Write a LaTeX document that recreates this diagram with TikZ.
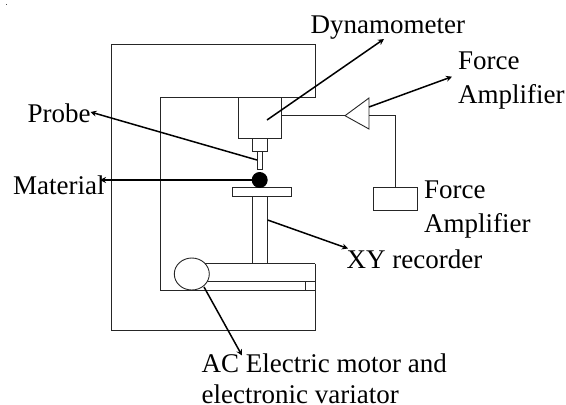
\documentclass[tikz,border=0pt]{standalone}
\usepackage{fontspec}
\setmainfont{Liberation Serif}
\usetikzlibrary{arrows.meta,shapes.geometric}
\tikzset{
  part/.style={draw=black!85,line width=0.9pt,fill=white},
  wire/.style={draw=black!85,line width=0.9pt},
  leader/.style={draw=black,line width=1.5pt,-{Stealth[length=6pt,width=6pt]}},
  lbl/.style={font=\fontsize{27}{32}\selectfont,inner sep=0pt,align=left,anchor=base west}
}
\begin{document}
\begin{tikzpicture}[x=1pt,y=-1pt]
\useasboundingbox (0,0) rectangle (566,405);
\fill[white] (0,0) rectangle (566,405);
\fill[black!70] (6,4) rectangle (7.2,5.2);
% frame
\draw[wire] (111,44) -- (315,44) -- (315,97.5) -- (160,97.5) -- (160,290) -- (315,290) -- (315,330) -- (111,330) -- cycle;
% base
\draw[wire] (192,263.5) -- (315,263.5);
\draw[wire] (192,281) -- (315,281);
\draw[wire] (305.5,281) -- (305.5,290);
\draw[wire] (315,263.5) -- (315,290);
% column, table
\node[part,minimum width=15pt,minimum height=67.5pt,inner sep=0pt] (column) at (259.7,229.7) {};
\node[part,minimum width=59pt,minimum height=8.5pt,inner sep=0pt] (table) at (262,191.7) {};
\node[circle,fill=black,minimum size=16pt,inner sep=0pt] (ball) at (259.7,180) {};
\node[part,ellipse,minimum width=35pt,minimum height=32pt,inner sep=0pt] (motor) at (191.8,274) {};
% dynamometer head
\node[part,minimum width=43.5pt,minimum height=40.5pt,inner sep=0pt] (dyn) at (259.7,117.7) {};
\node[part,minimum width=15.5pt,minimum height=13.5pt,inner sep=0pt] (holder) at (259.7,144.7) {};
\node[part,minimum width=5pt,minimum height=18pt,inner sep=0pt] (probe) at (259.7,160.5) {};
% amplifier
\coordinate (apex) at (345,115.7);
\coordinate (backmid) at (369,115.7);
\draw[part] (apex) -- (369,98) -- (369,129) -- cycle;
\node[part,minimum width=44pt,minimum height=23pt,inner sep=0pt] (box) at (395.5,198.5) {};
\draw[wire] (dyn.east |- apex) -- (apex);
\draw[wire] (backmid) -| (box.north);
% labels
\node[lbl] (tDyn) at (310.5,33) {Dynamometer};
\node[lbl] (tFA) at (458,69.5) {Force};
\node[lbl] (tFB) at (458,103) {Amplifier};
\node[lbl] (tProbe) at (27.5,122.5) {Probe};
\node[lbl] (tMat) at (13,194.5) {Material};
\node[lbl] (tBoxA) at (424,198) {Force};
\node[lbl] (tBoxB) at (424,232.5) {Amplifier};
\node[lbl] (tXY) at (346.5,268.5) {XY recorder};
\node[lbl] (tACa) at (201.5,372.3) {AC Electric motor and};
\node[lbl] (tACb) at (201.5,403) {electronic variator};
% leaders
\coordinate (eDyn) at (384,39);
\coordinate (eFA) at (452,76.7);
\coordinate (eProbe) at (90.5,112);
\coordinate (eMat) at (100,180);
\coordinate (eXY) at (348,248.5);
\coordinate (eAC) at (242,355.5);
\draw[leader] (267,120) -- (eDyn);
\draw[leader] (369,107) -- (eFA);
\draw[leader] (257,160) -- (eProbe);
\draw[leader] (ball.west) -- (eMat);
\draw[leader] (column.east |- 0,220) -- (eXY);
\draw[leader] (204,287) -- (eAC);
\end{tikzpicture}
\end{document}
